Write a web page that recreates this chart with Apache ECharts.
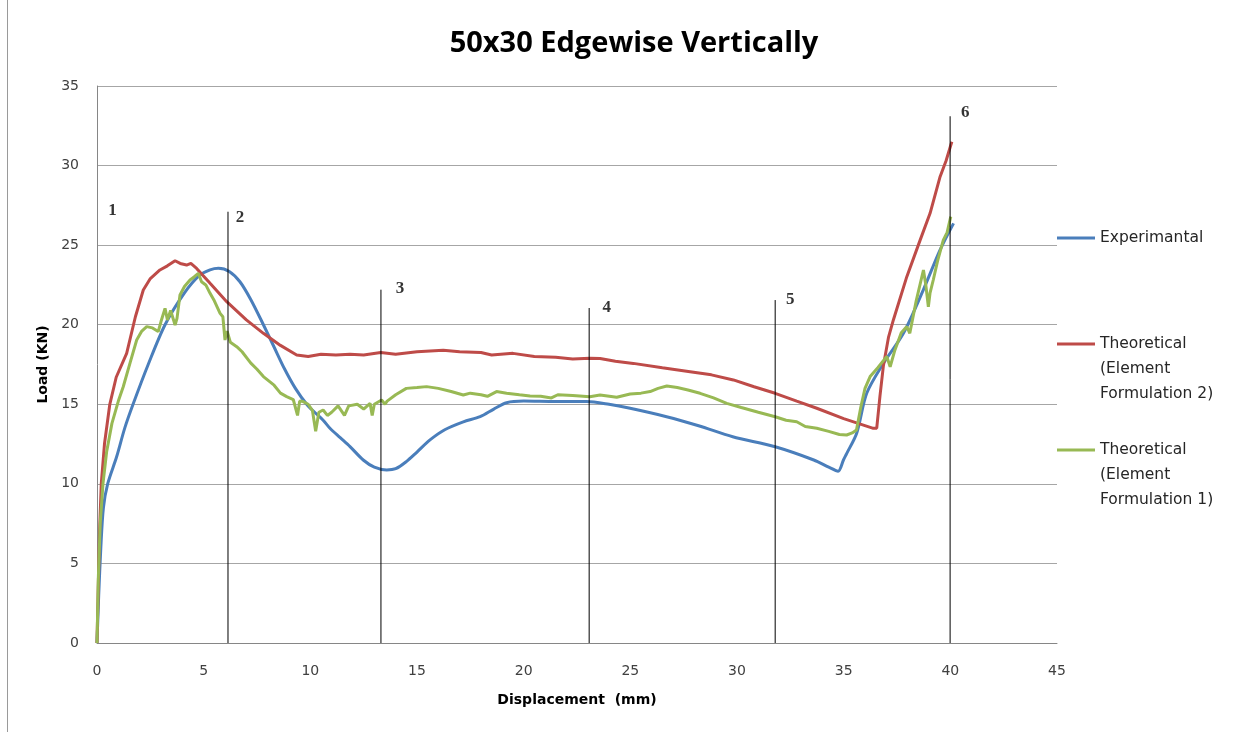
<!DOCTYPE html>
<html><head><meta charset="utf-8">
<script src="https://cdn.jsdelivr.net/npm/echarts@6/dist/echarts.min.js"></script>
<style>html,body{margin:0;padding:0;background:#fff}#c{width:1251px;height:732px}</style>
</head><body><div id="c"></div>
<script>
const seriesNames = ['Experimantal', 'Theoretical\n(Element\nFormulation 2)', 'Theoretical\n(Element\nFormulation 1)'];
const expData = [[0,0],[0.08,3],[0.18,6],[0.3,8.5],[0.5,10],[0.92,11.7],[1.3,13.5],[1.69,15],[2.4,17.5],[3.19,20],[4.1,22],[4.8,23.1],[5.3,23.45],[5.69,23.55],[6.2,23.35],[6.7,22.7],[7.2,21.6],[7.8,20],[8.3,18.6],[8.8,17.2],[9.3,16.0],[9.83,15],[10.2,14.5],[10.6,14.0],[10.92,13.49],[11.4,12.9],[11.86,12.34],[12.48,11.5],[13.0,11.05],[13.58,10.87],[14.0,10.95],[14.5,11.4],[15.0,12.0],[15.61,12.76],[16.3,13.4],[17.17,13.9],[17.96,14.22],[18.6,14.7],[19.2,15.1],[20.0,15.2],[21.5,15.17],[22.95,15.17],[24.0,15.0],[24.99,14.75],[26.7,14.22],[28.2,13.65],[29.8,12.96],[31.79,12.33],[33.6,11.5],[34.3,11.05],[34.74,10.8],[34.99,11.5],[35.14,11.9],[35.61,13.18],[36.08,15.69],[36.86,17.57],[37.8,19.46],[38.73,22.18],[39.52,24.7],[40.15,26.37]];
const ef2Data = [[0,0],[0.05,3],[0.12,7],[0.2,10],[0.35,12.5],[0.6,15],[0.9,16.7],[1.39,18.2],[1.8,20.5],[2.17,22.18],[2.5,22.9],[2.95,23.44],[3.3,23.7],[3.66,24.02],[3.9,23.85],[4.2,23.75],[4.4,23.85],[4.67,23.54],[5.3,22.6],[6.08,21.45],[7.0,20.3],[7.8,19.46],[8.6,18.7],[9.36,18.1],[9.9,18.0],[10.5,18.15],[11.2,18.1],[11.86,18.15],[12.5,18.1],[13.3,18.25],[14,18.15],[15,18.3],[16.23,18.4],[17,18.3],[18,18.25],[18.5,18.1],[19.5,18.2],[20.5,18.0],[21.5,17.95],[22.3,17.85],[23.1,17.9],[23.58,17.88],[24.3,17.7],[25.14,17.57],[26.5,17.3],[27.8,17.05],[28.8,16.85],[29.83,16.53],[30.8,16.1],[31.79,15.69],[32.8,15.2],[33.74,14.75],[35,14.1],[36.39,13.49],[36.55,13.5],[36.7,15.5],[36.86,17.4],[37.1,19.2],[37.33,20.3],[37.96,23.02],[38.58,25.3],[39.05,27.0],[39.52,29.3],[39.8,30.3],[40.07,31.5]];
const ef1Data = [[0,0],[0.06,4],[0.15,7.5],[0.28,10],[0.45,12],[0.7,13.8],[1.0,15.2],[1.23,16.1],[1.55,17.6],[1.86,19.04],[2.1,19.6],[2.33,19.88],[2.6,19.8],[2.87,19.57],[3.0,20.2],[3.19,21.03],[3.3,20.3],[3.45,20.9],[3.66,19.98],[3.75,20.4],[3.89,21.87],[4.1,22.4],[4.36,22.81],[4.55,23.0],[4.75,23.23],[4.9,22.7],[5.1,22.5],[5.3,21.97],[5.5,21.5],[5.77,20.71],[5.9,20.5],[6.0,19.04],[6.1,19.6],[6.25,18.9],[6.55,18.62],[6.8,18.3],[7.2,17.6],[7.5,17.2],[7.8,16.74],[8.3,16.2],[8.6,15.7],[8.89,15.48],[9.2,15.3],[9.4,14.3],[9.5,15.2],[9.66,15.17],[9.9,15.0],[10.1,14.6],[10.25,13.3],[10.4,14.5],[10.6,14.64],[10.8,14.3],[11.0,14.5],[11.3,14.9],[11.6,14.3],[11.8,14.9],[12.2,15.0],[12.5,14.7],[12.8,15.06],[12.9,14.3],[13.0,15.0],[13.34,15.27],[13.5,15.0],[13.6,15.2],[14.0,15.6],[14.5,16.0],[15.0,16.05],[15.45,16.11],[16.0,16.0],[16.6,15.8],[17.17,15.58],[17.5,15.7],[18.0,15.6],[18.3,15.5],[18.73,15.8],[19.2,15.7],[19.8,15.6],[20.3,15.52],[20.8,15.5],[21.3,15.4],[21.6,15.6],[22.3,15.55],[23.1,15.48],[23.58,15.58],[24.36,15.44],[24.99,15.65],[25.5,15.7],[25.93,15.8],[26.3,16.0],[26.71,16.15],[27.2,16.05],[27.7,15.9],[28.27,15.69],[28.9,15.4],[29.52,15.06],[30.2,14.8],[31.0,14.5],[31.79,14.22],[32.3,14.0],[32.8,13.9],[33.2,13.6],[33.74,13.49],[34.3,13.3],[34.8,13.1],[35.14,13.07],[35.4,13.2],[35.6,13.38],[35.8,14.8],[36.0,16.0],[36.24,16.74],[36.6,17.3],[37.02,18.0],[37.18,17.36],[37.4,18.4],[37.7,19.5],[37.96,19.88],[38.1,19.46],[38.4,21.5],[38.74,23.44],[38.85,22.5],[38.97,21.13],[39.05,22.0],[39.2,22.81],[39.4,24.0],[39.67,25.32],[39.85,25.8],[40.02,26.79]];
const markerX = [6.14, 13.31, 23.07, 31.79, 39.99];
const markerTop = [27.1, 22.2, 21.05, 21.55, 33.1];
const markerLabels = [['1',0.73,27.2],['2',6.7,26.7],['3',14.2,22.3],['4',23.9,21.1],['5',32.5,21.6],['6',40.7,33.35]];

const chart = echarts.init(document.getElementById('c'), null, {renderer:'canvas'});
const colors = ['#4a7ebb','#be4b48','#98b954'];
const axisFont = {fontFamily:'DejaVu Sans', fontSize:14, color:'#404040'};
const series = [
  {name:seriesNames[0], type:'line', data:expData, smooth:0.3, showSymbol:false, lineStyle:{width:3,color:colors[0]}, itemStyle:{color:colors[0]}, z:3},
  {name:seriesNames[1], type:'line', data:ef2Data, showSymbol:false, lineStyle:{width:3,color:colors[1]}, itemStyle:{color:colors[1]}, z:4},
  {name:seriesNames[2], type:'line', data:ef1Data, showSymbol:false, lineStyle:{width:3,color:colors[2]}, itemStyle:{color:colors[2]}, z:5}
];
markerX.forEach((x,i)=>{
  series.push({type:'line', data:[[x,0],[x,markerTop[i]]], showSymbol:false, silent:true, lineStyle:{width:1,color:'#000'}, z:6});
});
series.push({type:'scatter', data:markerLabels.map(d=>[d[1],d[2],d[0]]), symbolSize:0, silent:true, z:7,
  label:{show:true, position:'inside', formatter:p=>p.value[2], fontFamily:'Liberation Serif', fontWeight:'bold', fontSize:17, color:'#000'}});

const legendBase = {orient:'vertical', left:1057, padding:0, itemWidth:38, itemHeight:3, icon:'rect', selectedMode:false,
  textStyle:{fontFamily:'DejaVu Sans', fontSize:15.5, color:'#262626', lineHeight:25}};
const option = {
  animation:false,
  backgroundColor:'#fff',
  title:{text:'50x30 Edgewise Vertically', top:24, left:629, textAlign:'center',
    textStyle:{fontFamily:'Open Sans', fontWeight:'bold', fontSize:29, color:'#000'}},
  grid:{left:97, right:194, top:86, bottom:89},
  legend:[
    Object.assign({}, legendBase, {top:225.5, data:[{name:seriesNames[0], itemStyle:{color:colors[0]}}], formatter:n=>n}),
    Object.assign({}, legendBase, {top:281.5, data:[{name:seriesNames[1], itemStyle:{color:colors[1]}}], formatter:n=>'\n\n'+n}),
    Object.assign({}, legendBase, {top:387.5, data:[{name:seriesNames[2], itemStyle:{color:colors[2]}}], formatter:n=>'\n\n'+n})
  ],
  xAxis:{type:'value', min:0, max:45, interval:5, name:'Displacement  (mm)', nameLocation:'middle', nameGap:50,
    nameTextStyle:{fontFamily:'DejaVu Sans', fontWeight:'bold', fontSize:14, color:'#000'},
    axisLine:{show:true, lineStyle:{color:'#868686', width:1}}, axisTick:{show:false},
    axisLabel:Object.assign({margin:21}, axisFont), splitLine:{show:false}},
  yAxis:{type:'value', min:0, max:35, interval:5, name:'Load (KN)', nameLocation:'middle', nameGap:47,
    nameTextStyle:{fontFamily:'DejaVu Sans', fontWeight:'bold', fontSize:14, color:'#000'},
    axisLine:{show:true, lineStyle:{color:'#868686', width:1}}, axisTick:{show:false},
    axisLabel:Object.assign({margin:18}, axisFont), splitLine:{show:true, lineStyle:{color:'#a6a6a6', width:1}}},
  graphic:[{type:'line', shape:{x1:7.5,y1:0,x2:7.5,y2:732}, style:{stroke:'#9a9a9a', lineWidth:1}, silent:true}],
  series:series
};
chart.setOption(option);
</script></body></html>
